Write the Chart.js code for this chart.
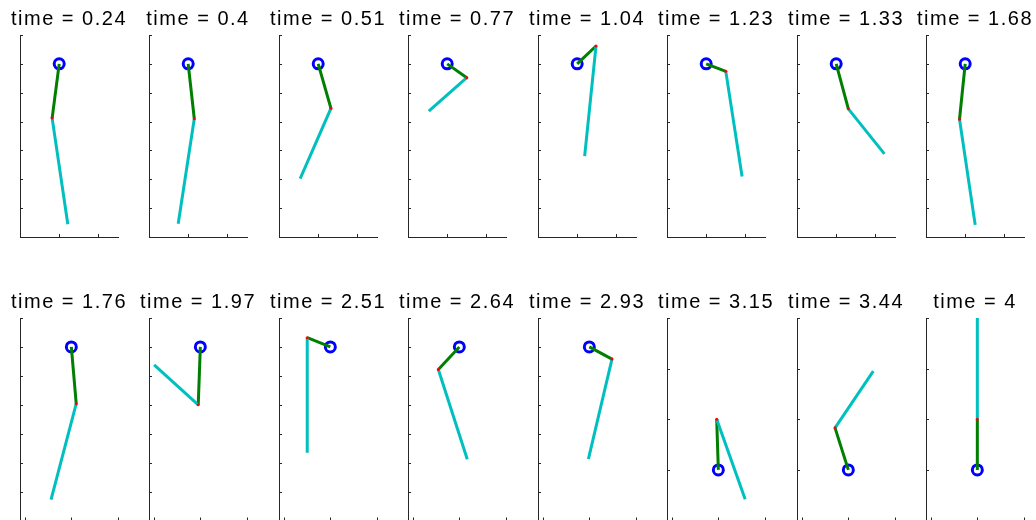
<!DOCTYPE html>
<html lang="en">

<head>
  <meta charset="UTF-8">
  <title>Double pendulum snapshots</title>
  <style>
body {
  margin: 0;
  width: 1036px;
  height: 520px;
  overflow: hidden;
  background-color: #fff;
  position: relative;
}

canvas {
  position: absolute;
}
  </style>
</head>

<body>
  <div id="grid"></div>

  <script src="https://cdn.jsdelivr.net/npm/chart.js"></script>
  <script>
    // snapshot times (panel titles)
    const times = ['0.24', '0.4', '0.51', '0.77', '1.04', '1.23', '1.33', '1.68',
                   '1.76', '1.97', '2.51', '2.64', '2.93', '3.15', '3.44', '4'];

    // pivot is at (0, 0); joint = end of first arm, tip = end of second arm
    const jointX = [-0.36, 0.31, 0.65, 1.0, 0.96, 1.0, 0.62, -0.29, 0.21, -0.09, -0.99, -0.90, 0.97, -0.07, -0.57, 0];
    const jointY = [-0.94, -0.95, -0.77, -0.24, 0.31, -0.13, -0.78, -0.96, -0.98, -1.0, 0.16, -0.39, -0.21, 1.0, 0.83, 1.0];
    const tipX = [0.44, -0.51, -0.92, -0.94, 0.38, 1.83, 2.46, 0.51, -0.87, -1.98, -0.99, 0.34, -0.04, 1.15, 1.07, 0];
    const tipY = [-2.78, -2.77, -1.99, -0.82, -1.60, -1.95, -1.56, -2.79, -2.64, -0.31, -1.83, -1.94, -1.94, -0.58, 1.95, 3.0];

    // axis limits and ticks of each panel
    const xMin = [-2, -2, -2, -2, -2, -2, -2, -2, -2.2, -2.2, -2.2, -2.2, -2.2, -2.2, -2.2, -2.2];
    const xMax = [3, 3, 3, 3, 3, 3, 3, 3, 2, 2, 2, 2, 2, 2, 2, 2];
    const yMin = [-3, -3, -3, -3, -3, -3, -3, -3, -3, -3, -3, -3, -3, -1, -1, -1];
    const yMax = [0.5, 0.5, 0.5, 0.5, 0.5, 0.5, 0.5, 0.5, 0.5, 0.5, 0.5, 0.5, 0.5, 3, 3, 3];
    const yStep = [0.5, 0.5, 0.5, 0.5, 0.5, 0.5, 0.5, 0.5, 0.5, 0.5, 0.5, 0.5, 0.5, 1, 1, 1];
    const xTicks = [-2, 0, 2];

    const axisColor = '#262626';

    // matlab style ticks pointing into the plot
    const inwardTicks = {
      id: 'inwardTicks',
      beforeDraw(chart) {
        // the original title font is set a bit wider
        chart.ctx.letterSpacing = '1.5px';
      },
      afterDraw(chart) {
        const { ctx, chartArea: a, scales: { x, y } } = chart;
        ctx.save();
        ctx.strokeStyle = axisColor;
        ctx.lineWidth = 1;
        ctx.beginPath();
        x.ticks.forEach(t => {
          const px = Math.round(x.getPixelForValue(t.value)) + 0.5;
          ctx.moveTo(px, a.bottom);
          ctx.lineTo(px, a.bottom - 3);
        });
        y.ticks.forEach(t => {
          const py = Math.round(y.getPixelForValue(t.value)) + 0.5;
          ctx.moveTo(a.left, py);
          ctx.lineTo(a.left + 3, py);
        });
        ctx.stroke();
        ctx.restore();
      }
    };

    function makePanel(i) {
      const row = Math.floor(i / 8);
      const col = i % 8;
      const spineX = 20 + col * 129.43;

      const canvas = document.createElement('canvas');
      const w = 128;
      const h = row === 0 ? 245 : 250;
      canvas.width = w;
      canvas.height = h;
      canvas.style.left = Math.round(spineX - 15) + 'px';
      canvas.style.top = (row === 0 ? 0 : 283) + 'px';
      document.getElementById('grid').appendChild(canvas);

      const yVals = [];
      for (let v = yMin[i]; v <= yMax[i] + 1e-9; v += yStep[i]) yVals.push(+v.toFixed(2));

      const pivot = { x: 0, y: 0 };
      const joint = { x: jointX[i], y: jointY[i] };
      const tip = { x: tipX[i], y: tipY[i] };

      new Chart(canvas, {
        type: 'scatter',
        data: {
          datasets: [{
            data: [joint],
            pointRadius: 1.5,
            pointBackgroundColor: '#ff0000',
            pointBorderWidth: 0,
            showLine: false
          }, {
            data: [joint, tip],
            showLine: true,
            borderColor: '#00bfbf',
            borderWidth: 3,
            pointRadius: 0
          }, {
            data: [pivot, joint],
            showLine: true,
            borderColor: '#007f00',
            borderWidth: 3,
            pointRadius: 0
          }, {
            data: [pivot],
            showLine: false,
            pointRadius: 5,
            pointBorderWidth: 3,
            pointBorderColor: '#0000ff',
            pointBackgroundColor: 'rgba(0,0,0,0)'
          }].map(d => Object.assign({ clip: 8 }, d))
        },
        options: {
          responsive: false,
          animation: false,
          devicePixelRatio: 1,
          layout: {
            padding: { left: 0, right: 0, top: 0, bottom: row === 0 ? 7 : 12.5 }
          },
          plugins: {
            legend: { display: false },
            tooltip: { enabled: false },
            title: {
              display: true,
              text: 'time = ' + times[i],
              color: '#000',
              font: { family: '"Liberation Sans", Arial, sans-serif', size: 20, weight: 'normal', lineHeight: 1.2 },
              padding: { top: 7, bottom: 4 }
            }
          },
          scales: {
            x: {
              type: 'linear',
              min: xMin[i],
              max: xMax[i],
              afterBuildTicks: s => { s.ticks = xTicks.map(v => ({ value: v })); },
              ticks: { display: false },
              grid: { display: true, drawOnChartArea: false, drawTicks: false },
              border: { display: true, color: axisColor, width: 1 }
            },
            y: {
              type: 'linear',
              min: yMin[i],
              max: yMax[i],
              afterBuildTicks: s => { s.ticks = yVals.map(v => ({ value: v })); },
              afterFit: s => { s.width = 15; },
              ticks: { display: false },
              grid: { display: true, drawOnChartArea: false, drawTicks: false },
              border: { display: true, color: axisColor, width: 1 }
            },
            // empty spacer on the right so the title can use the full panel width
            y2: {
              type: 'linear',
              position: 'right',
              afterFit: s => { s.width = 15; },
              ticks: { display: false },
              grid: { display: false, drawTicks: false },
              border: { display: false }
            }
          }
        },
        plugins: [inwardTicks]
      });
    }

    for (let i = 0; i < times.length; i++) makePanel(i);
  </script>
</body>

</html>
